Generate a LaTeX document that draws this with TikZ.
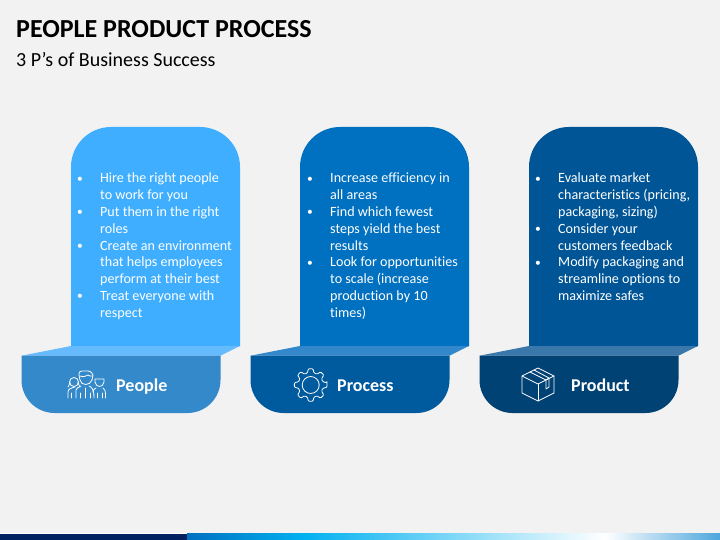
\documentclass[tikz,border=0pt]{standalone}
\usepackage{fontspec}
\setmainfont{Carlito}[Ligatures=NoCommon]
\definecolor{pagebg}{HTML}{F2F2F2}
\definecolor{colA}{HTML}{3FAEFF}\definecolor{flapA}{HTML}{66BBFF}\definecolor{footA}{HTML}{3389CA}
\definecolor{colB}{HTML}{0070C0}\definecolor{flapB}{HTML}{3388CC}\definecolor{footB}{HTML}{005A9E}
\definecolor{colC}{HTML}{005596}\definecolor{flapC}{HTML}{3A78AB}\definecolor{footC}{HTML}{004274}
\definecolor{barnavy}{HTML}{002060}\definecolor{barblue}{HTML}{0070C0}\definecolor{barcyan}{HTML}{00B0F0}\definecolor{barend}{HTML}{4DA6DD}
\newcommand{\bul}{\makebox[23pt][l]{\raisebox{0.8pt}{\fontsize{11.5pt}{12pt}\selectfont •}}}
\newcommand{\ind}{\hspace*{23pt}}
\newcommand{\panel}[5]{% x of column, column colour, flap colour, foot colour, name
  \fill[#2] (#1,346) -- (#1,167) arc[start angle=180,end angle=270,radius=40] -- ++(89,0) arc[start angle=270,end angle=360,radius=40] -- (#1+169,346) -- cycle;
  \fill[#3] (#1-49.5,355.7) -- (#1,346) -- (#1+169,346) -- (#1+149.5,355.7) -- cycle;
  \fill[#4] (#1-49.5,355.7) -- (#1+149.5,355.7) -- (#1+149.5,380) arc[start angle=0,end angle=90,radius=33] -- (#1-16.5,413) arc[start angle=90,end angle=180,radius=33] -- cycle;
}
\tikzset{
  x=1pt,y=-1pt,
  bodytext/.style={anchor=north west,inner sep=0pt,text=white,font=\fontsize{14.1pt}{16.8pt}\selectfont,align=left},
  foottext/.style={anchor=base west,inner sep=0pt,text=white,font=\fontsize{18pt}{20pt}\selectfont\bfseries},
  icon/.style={draw=white,line width=0.8pt,line join=round,line cap=round,fill=none}
}
\begin{document}
\begin{tikzpicture}
\useasboundingbox (0,0) rectangle (720,540);
\fill[pagebg] (0,0) rectangle (720,540);
\fill[white] (0,532.5) rectangle (720,534);
\fill[barnavy] (0,533.5) rectangle (187,540);
\shade[left color=barblue,right color=barcyan] (187,533.5) rectangle (303,540);
\shade[left color=barcyan,right color=white] (303,533.5) rectangle (605,540);
\shade[left color=white,right color=barend] (605,533.5) rectangle (720,540);
\node (title) [anchor=base west,inner sep=0pt,text=black,font=\fontsize{26pt}{30pt}\selectfont\bfseries] at (16,37.5) {PEOPLE PRODUCT PROCESS};
\node (subtitle) [anchor=base west,inner sep=0pt,text=black,font=\fontsize{20pt}{24pt}\selectfont] at (16,67) {3 P’s of Business Success};
\panel{71}{colA}{flapA}{footA}{A}
\panel{300}{colB}{flapB}{footB}{B}
\panel{529}{colC}{flapC}{footC}{C}
\node (bodyA) [bodytext] at (77,173) {\bul Hire the right people\\\ind to work for you\\\bul Put them in the right\\\ind roles\\\bul Create an environment\\\ind that helps employees\\\ind perform at their best\\\bul Treat everyone with\\\ind respect};
\node (bodyB) [bodytext] at (307,173) {\bul Increase efficiency in\\\ind all areas\\\bul Find which fewest\\\ind steps yield the best\\\ind results\\\bul Look for opportunities\\\ind to scale (increase\\\ind production by 10\\\ind times)};
\node (bodyC) [bodytext] at (535,173) {\bul Evaluate market\\\ind characteristics (pricing,\\\ind packaging, sizing)\\\bul Consider your\\\ind customers feedback\\\bul Modify packaging and\\\ind streamline options to\\\ind maximize safes};
\node (footlabelA) [foottext] at (116,391) {People};
\node (footlabelB) [foottext] at (337,391) {Process};
\node (footlabelC) [foottext] at (571,391) {Product};
% people icon
\begin{scope}[icon]
\draw (79,375) .. controls (79,371) and (80,371) .. (85,371) .. controls (90,371) and (91,371) .. (93,375) -- (92,380) .. controls (90,386) and (81,386) .. (80,380) -- cycle;
\draw (80,376) .. controls (84,378) and (87,375) .. (88,375) .. controls (89,376) and (90,376) .. (92,376);
\draw (68,398) -- (68,392) .. controls (68,389) and (71,388) .. (75,387);
\draw (71,398) -- (71,393);
\draw (74,382) circle[radius=4.5];
\draw (70,382) .. controls (69,385) and (69,386) .. (68,387);
\draw (78,382) .. controls (79,385) and (79,386) .. (80,387);
\draw (76,398) -- (76,390) .. controls (76,389) and (78,387) .. (81,386);
\draw (80,398) -- (80,393);
\draw (85,398) -- (85,388);
\draw (90,398) -- (90,393);
\draw (89,386) .. controls (91,387) and (94,388) .. (94,398);
\draw (95,380) -- (95,379) -- (104,379) -- (104,382) .. controls (103,388) and (96,388) .. (95,382) -- cycle;
\draw (97,398) -- (97,393);
\draw (102,398) -- (102,393);
\draw (96,388) .. controls (94,389) and (93,390) .. (93,392);
\draw (103,388) .. controls (105,389) and (105.5,390) .. (105.5,398);
\end{scope}
% gear icon
\begin{scope}[shift={(310.7,385)},icon]
\draw (0,0) circle[radius=8.5];
\draw[rounded corners=1pt] (-8:16.5)
 \foreach \a in {0,45,...,315}{
   -- (\a-8:16.5) -- (\a+8:16.5) -- (\a+15:12.5) -- (\a+30:12.5)
 } -- cycle;
\end{scope}
% box icon
\begin{scope}[icon]
\draw (538,368) -- (554,376) -- (554,393) -- (538,401) -- (522,393) -- (522,376) -- cycle;
\draw (522,376) -- (538,384) -- (554,376);
\draw (538,384) -- (538,401);
\draw (530,372) -- (546,380) -- (549,378) -- (534,370);
\draw (546,380) -- (546,389) -- (549,387) -- (549,378);
\end{scope}
\end{tikzpicture}
\end{document}
